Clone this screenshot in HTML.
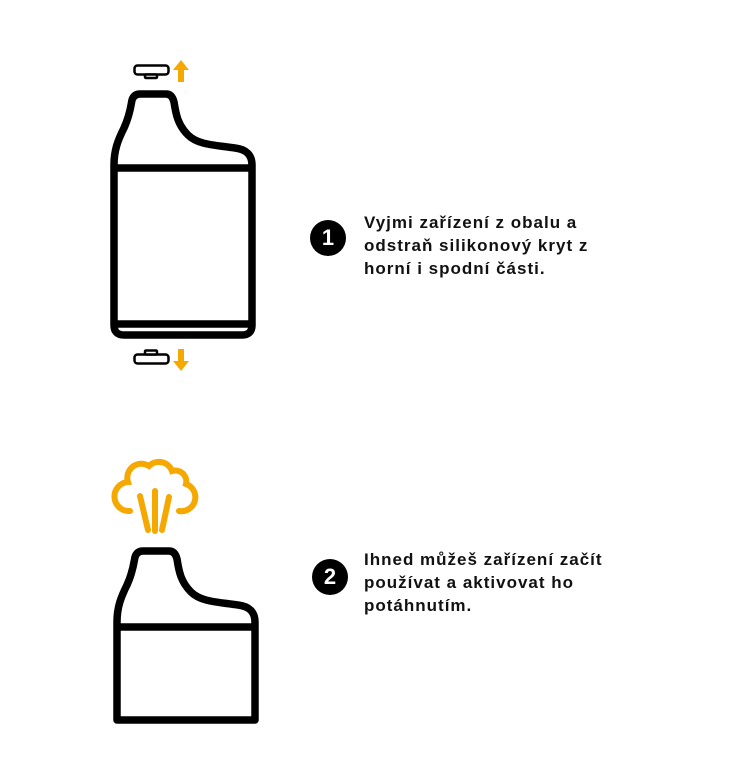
<!DOCTYPE html>
<html><head><meta charset="utf-8"><style>
html,body{margin:0;padding:0;background:#fff;width:750px;height:780px;overflow:hidden}
.t{position:absolute;left:364px;font:bold 17px/23px "Liberation Sans",sans-serif;letter-spacing:1px;color:#111;white-space:nowrap}
.n{position:absolute;width:36px;height:36px;border-radius:50%;background:#000;color:#fff;font:bold 22px/36px "Liberation Sans",sans-serif;text-align:center}
</style></head><body>
<svg width="750" height="780" style="position:absolute;left:0;top:0">
<g fill="none" stroke="#000" stroke-width="7.5" stroke-linejoin="round">
<path d="M114,165 C114,150 118,140 124,128 C130,115 131,105 132,100 Q134,94 140,94 L166,94 Q172,94 174,102 C176,115 178,125 188,135 C198,145 215,145 235,148 Q252,150 252,165 L252,325 Q252,335 242,335 L124,335 Q114,335 114,325 Z"/>
<line x1="114" y1="168" x2="252" y2="168"/>
<line x1="114" y1="324" x2="252" y2="324"/>
<path d="M117,720 L117,622 C117,607 121,597 127,585 C133,572 134,562 135,557 Q137,551 143,551 L169,551 Q175,551 177,559 C179,572 181,582 191,592 C201,602 218,602 238,605 Q255,607 255,622 L255,720 Z"/>
<line x1="117" y1="627" x2="255" y2="627"/>
</g>
<g fill="#fff" stroke="#000" stroke-width="2.5">
<rect x="134.5" y="65.5" width="34" height="9" rx="3"/>
<rect x="145" y="74.5" width="12" height="3.5" rx="1"/>
<rect x="134.5" y="354.5" width="34" height="9" rx="3"/>
<rect x="145" y="350.5" width="12" height="4" rx="1"/>
</g>
<g fill="#f5a800">
<polygon points="181,60 189,70 184,70 184,82 178,82 178,70 173,70"/>
<polygon points="181,371 189,361 184,361 184,349 178,349 178,361 173,361"/>
</g>
<g fill="none" stroke="#f5a800" stroke-width="6" stroke-linecap="round">
<path d="M130,511 A13,13 0 0 1 128,482 A14,14 0 0 1 149,466 A14,14 0 0 1 172,471 A11,11 0 0 1 186,484 A14,14 0 0 1 179,511"/>
<line x1="140" y1="496" x2="148" y2="530"/>
<line x1="155" y1="491" x2="155" y2="531"/>
<line x1="169" y1="497" x2="162" y2="530"/>
</g>
</svg>
<div class="n" style="left:310px;top:220px">1</div>
<div class="t" style="top:211px">Vyjmi zařízení z obalu a<br>odstraň silikonový kryt z<br>horní i spodní části.</div>
<div class="n" style="left:312px;top:559px">2</div>
<div class="t" style="top:548px">Ihned můžeš zařízení začít<br>používat a aktivovat ho<br>potáhnutím.</div>
</body></html>
